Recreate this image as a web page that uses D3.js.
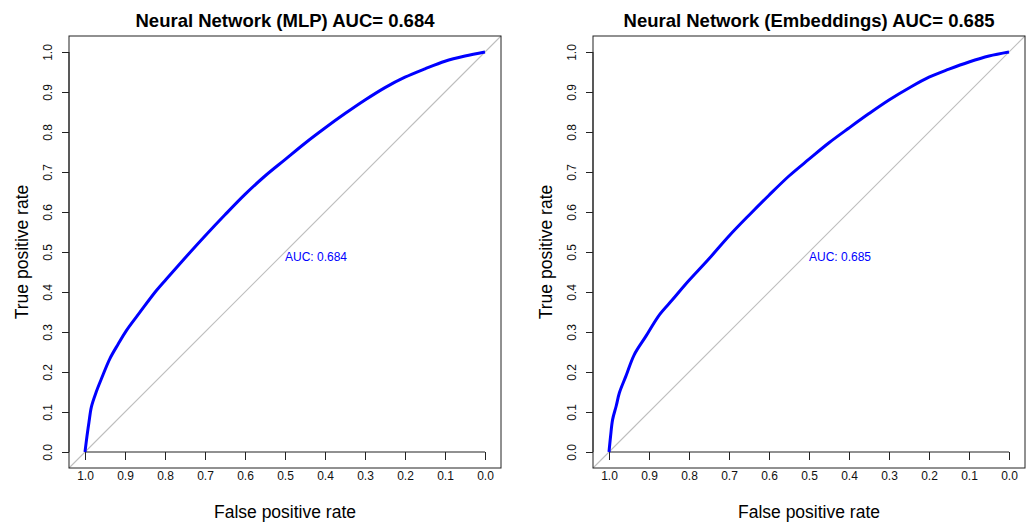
<!DOCTYPE html>
<html>
<head>
<meta charset="utf-8">
<script src="https://cdn.jsdelivr.net/npm/d3@7"></script>
<style>
  body { margin: 0; background: #fff; }
  svg text { font-family: "Liberation Sans", Arial, Helvetica, sans-serif; }
  .axis path, .axis line { stroke: #222; }
  .axis text { font-size: 12px; fill: #111; }
</style>
</head>
<body>
<div id="chart"></div>
<script>
// ROC curve points (x axis is specificity, reversed)
var mlpSpec = [1.000, 0.995, 0.990, 0.984, 0.972, 0.959, 0.938, 0.917, 0.897, 0.863, 0.822, 0.797,
  0.75, 0.70, 0.65, 0.60, 0.55, 0.50, 0.45, 0.40, 0.35, 0.30, 0.25, 0.20, 0.15, 0.10, 0.05, 0.00];
var mlpSens = [0.000, 0.040, 0.075, 0.113, 0.150, 0.183, 0.233, 0.270, 0.303, 0.349, 0.403, 0.432,
  0.485, 0.540, 0.593, 0.644, 0.690, 0.731, 0.772, 0.810, 0.846, 0.880, 0.911, 0.937, 0.958, 0.977, 0.990, 1.000];

var embSpec = [1.000, 0.996, 0.991, 0.982, 0.974, 0.958, 0.937, 0.908, 0.874, 0.841, 0.808,
  0.75, 0.70, 0.65, 0.60, 0.55, 0.50, 0.45, 0.40, 0.35, 0.30, 0.25, 0.20, 0.15, 0.10, 0.05, 0.00];
var embSens = [0.000, 0.040, 0.081, 0.115, 0.148, 0.189, 0.243, 0.289, 0.343, 0.381, 0.420,
  0.483, 0.540, 0.592, 0.642, 0.690, 0.732, 0.773, 0.810, 0.846, 0.880, 0.910, 0.937, 0.957, 0.975, 0.990, 1.000];

var titles = ["Neural Network (MLP) AUC= 0.684", "Neural Network (Embeddings) AUC= 0.685"];
var aucLabels = ["AUC: 0.684", "AUC: 0.685"];
var tickValues = [0, 0.1, 0.2, 0.3, 0.4, 0.5, 0.6, 0.7, 0.8, 0.9, 1.0];

var svgWidth = 1031;
var svgHeight = 525;

var svg = d3.select("#chart")
    .append("svg")
    .attr("width", svgWidth)
    .attr("height", svgHeight);

// Each panel is a square plot region
var boxSize = 432;
var boxTop = 36;
var panels = [
  { left: 69, spec: mlpSpec, sens: mlpSens, title: titles[0], auc: aucLabels[0] },
  { left: 593, spec: embSpec, sens: embSens, title: titles[1], auc: aucLabels[1] }
];

panels.forEach(function(p) {
  var g = svg.append("g")
      .attr("transform", `translate(${p.left}, ${boxTop})`);

  // 4% padding on each side, like R
  var xScale = d3.scaleLinear().domain([1.04, -0.04]).range([0, boxSize]);
  var yScale = d3.scaleLinear().domain([-0.04, 1.04]).range([boxSize, 0]);

  // Diagonal reference line
  g.append("line")
      .attr("x1", xScale(1.04))
      .attr("y1", yScale(-0.04))
      .attr("x2", xScale(-0.04))
      .attr("y2", yScale(1.04))
      .attr("stroke", "#bebebe")
      .attr("stroke-width", 1.1);

  // Bottom axis sits at sensitivity 0
  var bottomAxis = d3.axisBottom(xScale)
      .tickValues(tickValues)
      .tickFormat(d3.format(".1f"))
      .tickSize(8)
      .tickSizeOuter(0)
      .tickPadding(11);

  var xAxisG = g.append("g")
      .attr("class", "axis")
      .attr("transform", `translate(0, ${yScale(0)})`)
      .call(bottomAxis);
  xAxisG.select(".domain").attr("d", `M${xScale(1)},0H${xScale(0)}`);

  // Left axis on the box edge, labels turned like R
  var leftAxis = d3.axisLeft(yScale)
      .tickValues(tickValues)
      .tickFormat(d3.format(".1f"))
      .tickSize(7)
      .tickSizeOuter(0);

  var yAxisG = g.append("g")
      .attr("class", "axis")
      .call(leftAxis);
  yAxisG.select(".domain").attr("d", `M0,${yScale(0)}V${yScale(1)}`);
  yAxisG.selectAll(".tick text")
      .attr("x", 0)
      .attr("dy", "0.35em")
      .attr("text-anchor", "middle")
      .attr("transform", "translate(-21, 0) rotate(-90)");

  // ROC curve
  var line = d3.line()
      .x(function(d, i) { return xScale(p.spec[i]); })
      .y(function(d, i) { return yScale(p.sens[i]); })
      .curve(d3.curveCatmullRom.alpha(0.5));

  g.append("path")
      .datum(p.spec)
      .attr("d", line)
      .attr("fill", "none")
      .attr("stroke", "#0000ff")
      .attr("stroke-width", 3)
      .attr("stroke-linejoin", "round");

  // AUC text, top-left corner at (0.5, 0.5)
  g.append("text")
      .attr("x", xScale(0.5))
      .attr("y", yScale(0.5) + 8.7)
      .attr("font-size", "12px")
      .attr("fill", "#0000ff")
      .text(p.auc);

  // Box around plot region
  g.append("rect")
      .attr("width", boxSize)
      .attr("height", boxSize)
      .attr("fill", "none")
      .attr("stroke", "#222")
      .attr("stroke-width", 1);

  // Title and axis labels
  g.append("text")
      .attr("x", boxSize / 2)
      .attr("y", 27 - boxTop)
      .attr("text-anchor", "middle")
      .attr("font-size", "18.5px")
      .attr("font-weight", "bold")
      .text(p.title);

  g.append("text")
      .attr("x", boxSize / 2)
      .attr("y", 518 - boxTop)
      .attr("text-anchor", "middle")
      .attr("font-size", "17.5px")
      .text("False positive rate");

  g.append("text")
      .attr("transform", `translate(-41, ${boxSize / 2}) rotate(-90)`)
      .attr("text-anchor", "middle")
      .attr("font-size", "17.5px")
      .text("True positive rate");
});
</script>
</body>
</html>
